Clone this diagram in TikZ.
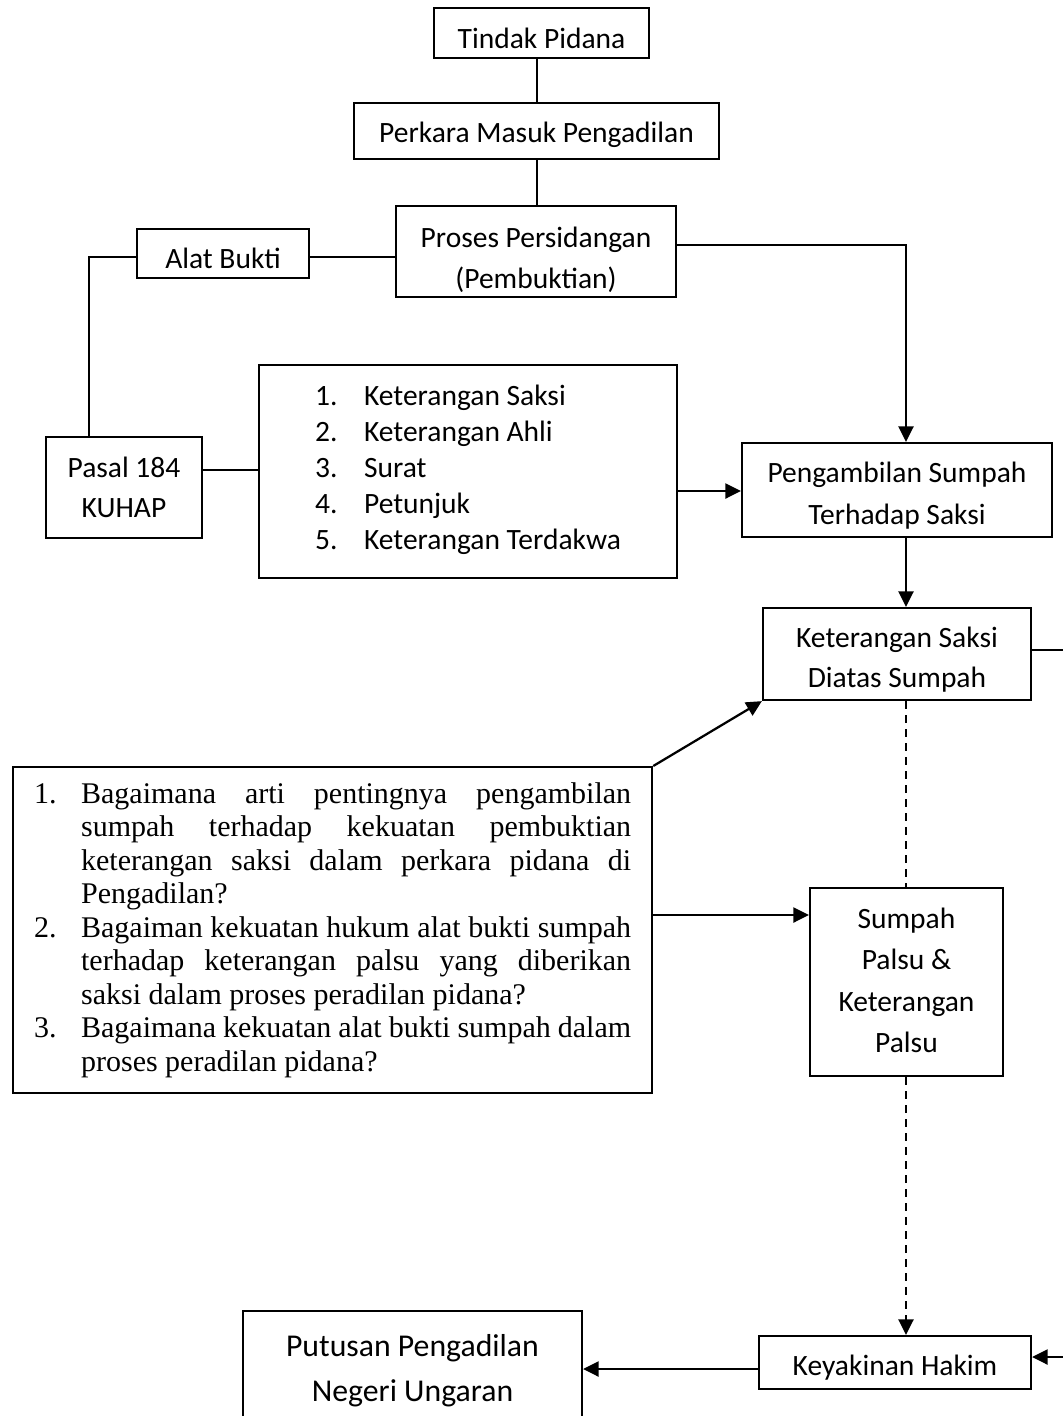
\documentclass[tikz,border=0pt]{standalone}
\usepackage{fontspec}
\setmainfont{Carlito}
\newfontfamily\tms{Liberation Serif}
\usetikzlibrary{arrows.meta,calc}
\tikzset{
  box/.style={draw, line width=0.9pt, inner sep=0pt, align=center,
              font=\fontsize{11.8}{16.4}\selectfont},
  lbl/.style={align=center, inner sep=0pt, font=\fontsize{11.8}{16.4}\selectfont},
  conn/.style={line width=0.9pt},
  tip/.style={-{Triangle[length=6.2pt,width=6pt]}},
  arr/.style={line width=0.9pt, tip},
  dsh/.style={line width=0.9pt, dash pattern=on 3.2pt off 2.4pt},
}
\begin{document}
\begin{tikzpicture}[x=0.4pt,y=-0.4pt]
\useasboundingbox (0,0) rectangle (1063,1416);
% nodes
\node[box, minimum width=215*0.4pt, minimum height=50*0.4pt,
      label={[lbl, yshift=-2pt]center:{Tindak Pidana}}] (tp) at (541.5,33) {};
\node[box, minimum width=365*0.4pt, minimum height=56*0.4pt,
      label={[lbl, yshift=-1.6pt]center:{Perkara Masuk Pengadilan}}] (pm) at (536.5,131) {};
\node[box, minimum width=280*0.4pt, minimum height=91*0.4pt,
      label={[lbl, yshift=-3.2pt]center:{Proses Persidangan\\(Pembuktian)}}] (pp) at (536,251.5) {};
\node[box, minimum width=172*0.4pt, minimum height=49*0.4pt,
      label={[lbl, yshift=-2pt]center:{Alat Bukti}}] (ab) at (223,253.5) {};
\node[box, font=\fontsize{11.8}{16}\selectfont, minimum width=156*0.4pt, minimum height=101*0.4pt] (pasal) at (124,487.5) {Pasal 184\\KUHAP};
\node[box, align=left, font=\fontsize{11.8}{14.4}\selectfont, minimum width=418*0.4pt, minimum height=213*0.4pt,
      label={[lbl, align=left, font=\fontsize{11.8}{14.4}\selectfont, yshift=0.8pt]center:{%
   \makebox[19.6pt][l]{1.}Keterangan Saksi\\
   \makebox[19.6pt][l]{2.}Keterangan Ahli\\
   \makebox[19.6pt][l]{3.}Surat\\
   \makebox[19.6pt][l]{4.}Petunjuk\\
   \makebox[19.6pt][l]{5.}Keterangan Terdakwa}}] (list) at (468,471.5) {};
\node[box, minimum width=310*0.4pt, minimum height=94*0.4pt,
      label={[lbl, font=\fontsize{11.8}{16.8}\selectfont, yshift=-2.4pt]center:{Pengambilan Sumpah\\Terhadap Saksi}}] (peng) at (897,490) {};
\node[box, minimum width=268*0.4pt, minimum height=92*0.4pt,
      label={[lbl, font=\fontsize{11.8}{16}\selectfont, yshift=-2.4pt]center:{Keterangan Saksi\\Diatas Sumpah}}] (ks) at (897,654) {};
\node[box, font=\fontsize{11.8}{16.6}\selectfont, minimum width=193*0.4pt, minimum height=188*0.4pt,
      label={[lbl, font=\fontsize{11.8}{16.6}\selectfont, yshift=0.6pt]center:{Sumpah\\Palsu \&\\Keterangan\\Palsu}}] (sp) at (906.5,982) {};
\node[box, minimum width=272*0.4pt, minimum height=53*0.4pt,
      label={[lbl, yshift=-2pt]center:{Keyakinan Hakim}}] (kh) at (895,1362.5) {};
\node[box, font=\fontsize{12.7}{18}\selectfont, minimum width=339*0.4pt, minimum height=119*0.4pt] (put) at (412.5,1370.5) {Putusan Pengadilan\\Negeri Ungaran};
\node[draw, line width=0.9pt, anchor=north west, inner xsep=8.4pt, inner ysep=0pt,
      minimum height=326*0.4pt, text width=238.8pt, align=justify,
      font=\tms\fontsize{12}{13.4}\selectfont] (q) at (12,766)
  {\hangindent=18.8pt\hangafter=1\noindent\makebox[18.8pt][l]{1.}Bagaimana arti pentingnya pengambilan\linebreak
   sumpah terhadap kekuatan pembuktian\linebreak
   keterangan saksi dalam perkara pidana di\linebreak
   Pengadilan?\par
   \hangindent=18.8pt\hangafter=1\noindent\makebox[18.8pt][l]{2.}Bagaiman kekuatan hukum alat bukti sumpah\linebreak
   terhadap keterangan palsu yang diberikan\linebreak
   saksi dalam proses peradilan pidana?\par
   \hangindent=18.8pt\hangafter=1\noindent\makebox[18.8pt][l]{3.}Bagaimana kekuatan alat bukti sumpah dalam\linebreak
   proses peradilan pidana?\par};
% helper coordinate beyond the right edge
\coordinate (rt) at (1090,650);
% connectors
\draw[conn] (tp.south -| 537,0) -- (pm.north -| 537,0);
\draw[conn] (pm.south -| 537,0) -- (pp.north -| 537,0);
\draw[conn] (ab.east |- 0,257) -- (pp.west |- 0,257);
\draw[conn] (ab.west |- 0,257) -| (pasal.north -| 89,0);
\draw[conn] (pasal.east |- 0,470) -- (list.west |- 0,470);
\draw[arr] (list.east |- 0,491) -- (peng.west |- 0,491);
\draw[arr] (pp.east |- 0,245) -| (peng.north -| 906,0);
\draw[arr] (peng.south -| 906,0) -- (ks.north -| 906,0);
\draw[arr] (ks.east |- rt) -- (rt) |- (kh.east |- 0,1357);
\draw[arr] (q.north east) -- (ks.south west);
\draw[arr] (q.east |- 0,915) -- (sp.west |- 0,915);
\draw[dsh] (ks.south -| 906,0) -- (sp.north -| 906,0);
\draw[dsh, tip] (sp.south -| 906,0) -- (kh.north -| 906,0);
\draw[arr] (kh.west |- 0,1369) -- (put.east |- 0,1369);
\end{tikzpicture}
\end{document}
